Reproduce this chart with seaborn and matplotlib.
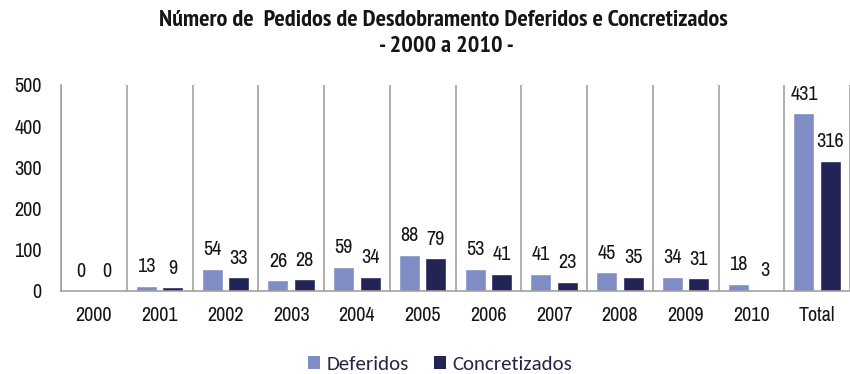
import matplotlib
matplotlib.use("Agg")
import matplotlib.pyplot as plt
import seaborn as sns
import pandas as pd
from matplotlib.patches import Patch
from matplotlib import font_manager as fm

categories = ["2000", "2001", "2002", "2003", "2004", "2005",
              "2006", "2007", "2008", "2009", "2010", "Total"]
deferidos = [0, 13, 54, 26, 59, 88, 53, 41, 45, 34, 18, 431]
concretizados = [0, 9, 33, 28, 34, 79, 41, 23, 35, 31, 3, 316]
series_names = ["Deferidos", "Concretizados"]
y_ticks = [0, 100, 200, 300, 400, 500]

COL_LIGHT = "#7f8dc4"
COL_DARK = "#222456"
GRID = "#9a9a9a"
TEXT = "#151515"

NARROW_PREFS = ["Liberation Sans Narrow", "Arial Narrow", "Archivo Narrow",
                "PT Sans Narrow", "Roboto Condensed", "Fira Sans Condensed",
                "IBM Plex Sans Condensed", "Encode Sans Condensed",
                "Barlow Semi Condensed", "Asap Condensed", "Pragati Narrow",
                "Open Sans Condensed"]

weights = {}
for f in fm.fontManager.ttflist:
    w = f.weight if isinstance(f.weight, int) else 400
    weights.setdefault(f.name, set()).add(w)


def pick(prefs, need_bold=False):
    found = [p for p in prefs if p in weights
             and (not need_bold or max(weights[p]) >= 700)]
    return found + ["DejaVu Sans"]


NARROW = pick(NARROW_PREFS)
NARROW_BOLD = pick(NARROW_PREFS, need_bold=True)
LEGEND_FONT = pick(["Carlito", "Lato", "Open Sans"])

sns.set_theme(style="white")
plt.rcParams["font.family"] = NARROW

df = pd.DataFrame({
    "ano": categories * 2,
    "valor": deferidos + concretizados,
    "serie": [series_names[0]] * len(categories) + [series_names[1]] * len(categories),
})

fig = plt.figure(figsize=(8.5, 3.74), dpi=100)
ax = fig.add_axes([61 / 850, 1 - 291 / 374, 1 - 61 / 850, 206 / 374])

sns.barplot(data=df, x="ano", y="valor", hue="serie", order=categories,
            hue_order=series_names, palette=[COL_LIGHT, COL_DARK],
            width=0.8, gap=0.2, saturation=1, legend=False, ax=ax)

for cont in ax.containers:
    ax.bar_label(cont, fmt="%d", padding=7, fontsize=14.5, color=TEXT,
                 family=NARROW)

ax.set_ylim(0, 500)
ax.set_xlim(-0.5, len(categories) - 0.5)
ax.set_yticks(y_ticks)
ax.set_yticklabels([str(v) for v in y_ticks], fontsize=14.5, color=TEXT)
ax.tick_params(axis="y", length=0, pad=14)
ax.tick_params(axis="x", which="major", length=0, pad=11, labelsize=14.5,
               labelcolor=TEXT)

# category separators: minor ticks at the group boundaries with grid lines
ax.set_xticks([i - 0.5 for i in range(len(categories) + 1)], minor=True)
ax.tick_params(axis="x", which="minor", length=7, width=1.1, color=GRID,
               direction="out")
ax.grid(True, axis="x", which="minor", color=GRID, linewidth=1.1)
ax.grid(False, axis="y")
ax.grid(False, axis="x", which="major")

for s in ["top", "right"]:
    ax.spines[s].set_visible(False)
ax.spines["left"].set_color(GRID)
ax.spines["left"].set_linewidth(1.1)
ax.spines["bottom"].set_color(GRID)
ax.spines["bottom"].set_linewidth(1.1)
ax.set_xlabel("")
ax.set_ylabel("")

fig.text(443 / 850, 1 - 20 / 374,
         "Número de  Pedidos de Desdobramento Deferidos e Concretizados",
         ha="center", va="center", fontsize=17.5, fontweight="bold",
         color=TEXT, family=NARROW_BOLD)
fig.text(446 / 850, 1 - 47 / 374, "- 2000 a 2010 -",
         ha="center", va="center", fontsize=17.5, fontweight="bold",
         color=TEXT, family=NARROW_BOLD)

handles = [Patch(facecolor=COL_LIGHT, edgecolor="none"),
           Patch(facecolor=COL_DARK, edgecolor="none")]
fig.legend(handles, series_names, loc="center", ncol=2,
           bbox_to_anchor=(440 / 850, 1 - 364 / 374), frameon=False,
           prop={"family": LEGEND_FONT, "size": 15},
           handlelength=0.6, handleheight=0.6, handletextpad=0.3,
           columnspacing=1.2, labelcolor="#23264a", borderpad=0)

fig.savefig("out.png", dpi=100)
